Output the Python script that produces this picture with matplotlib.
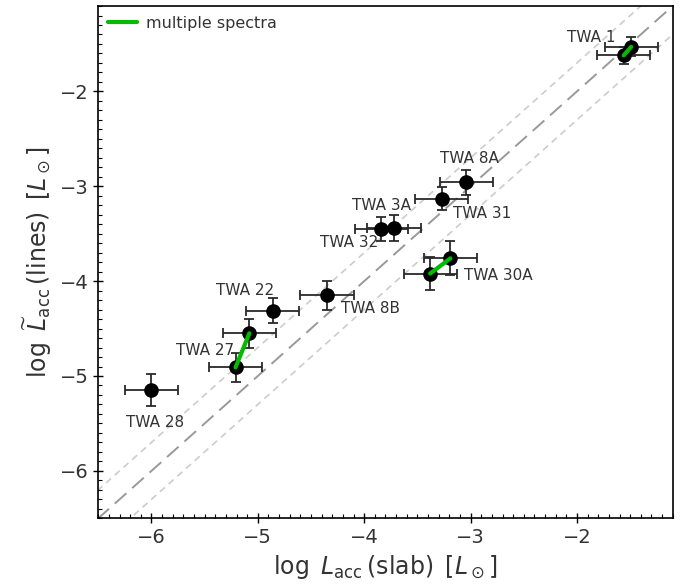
import numpy as np
import matplotlib
matplotlib.use("Agg")
import matplotlib.pyplot as plt
from matplotlib.ticker import MultipleLocator

plt.rcParams['font.family'] = ['DejaVu Sans']
plt.rcParams['mathtext.fontset'] = 'dejavusans'

# single-spectrum targets
names = ['TWA 28', 'TWA 22', 'TWA 8B', 'TWA 32', 'TWA 3A', 'TWA 31', 'TWA 8A']
x_slab = [-6.00, -4.86, -4.35, -3.84, -3.72, -3.27, -3.04]
y_lines = [-5.15, -4.31, -4.15, -3.45, -3.44, -3.13, -2.96]
x_err = [0.25, 0.25, 0.25, 0.25, 0.25, 0.25, 0.25]
y_err = [0.17, 0.13, 0.155, 0.13, 0.14, 0.12, 0.13]

# targets with multiple spectra (two epochs each)
multi_names = ['TWA 27', 'TWA 30A', 'TWA 1']
multi_x = [[-5.21, -5.08], [-3.38, -3.19], [-1.56, -1.49]]
multi_y = [[-4.91, -4.55], [-3.92, -3.76], [-1.62, -1.53]]
multi_xerr = [[0.25, 0.25], [0.25, 0.25], [0.25, 0.25]]
multi_yerr = [[0.15, 0.155], [0.175, 0.18], [0.09, 0.10]]

# label positions (data coords)
lab_names = ['TWA 28', 'TWA 22', 'TWA 8B', 'TWA 32', 'TWA 3A', 'TWA 31', 'TWA 8A',
             'TWA 27', 'TWA 30A', 'TWA 1']
lab_x = [-5.97, -5.12, -3.94, -4.14, -3.84, -2.89, -3.01, -5.50, -2.74, -1.87]
lab_y = [-5.49, -4.10, -4.29, -3.59, -3.20, -3.29, -2.71, -4.73, -3.94, -1.43]

offset = 0.3
txtcol = '#333333'

fig = plt.figure(figsize=(6.86, 5.84), dpi=100)
ax = fig.add_axes([0.1433, 0.1125, 0.8373, 0.8772])

xx = np.array([-7.0, 0.0])
ax.plot(xx, xx, color='#999999', lw=1.4, dashes=(8, 4), zorder=1)
ax.plot(xx, xx + offset, color='#cccccc', lw=1.2, dashes=(4, 3), zorder=1)
ax.plot(xx, xx - offset, color='#cccccc', lw=1.2, dashes=(4, 3), zorder=1)

ax.errorbar(x_slab, y_lines, xerr=x_err, yerr=y_err, fmt='o', color='black',
            ms=9.5, ecolor='#2a2a2a', elinewidth=1.3, capsize=3.5, capthick=1.3, zorder=3)

for i in range(len(multi_names)):
    ax.errorbar(multi_x[i], multi_y[i], xerr=multi_xerr[i], yerr=multi_yerr[i], fmt='o',
                color='black', ms=9.5, ecolor='#2a2a2a', elinewidth=1.3, capsize=3.5,
                capthick=1.3, zorder=3)
    ax.plot(multi_x[i], multi_y[i], color='#00bb00', lw=3, solid_capstyle='round', zorder=4,
            label='multiple spectra' if i == 0 else None)

for n, tx, ty in zip(lab_names, lab_x, lab_y):
    ax.text(tx, ty, n, ha='center', va='center', fontsize=11, color=txtcol)

ax.set_xlim(-6.5, -1.1)
ax.set_ylim(-6.5, -1.1)
ax.xaxis.set_major_locator(MultipleLocator(1))
ax.yaxis.set_major_locator(MultipleLocator(1))
ax.xaxis.set_minor_locator(MultipleLocator(0.1))
ax.yaxis.set_minor_locator(MultipleLocator(0.1))
ax.tick_params(which='major', direction='inout', length=7, width=1, labelsize=14,
               labelcolor=txtcol)
ax.tick_params(which='minor', direction='in', length=3, width=0.8)
for s in ax.spines.values():
    s.set_linewidth(1.2)

ax.set_xlabel(r'$\log\ L_{\rm acc}\,({\rm slab})\ \,[L_\odot]$', fontsize=17, color=txtcol)
ax.set_ylabel(r'$\log\ \widetilde{L}_{\rm acc}\,({\rm lines})\ \,[L_\odot]$', fontsize=17,
              color=txtcol)

leg = ax.legend(loc='upper left', frameon=False, fontsize=11.5, handlelength=1.8,
                handletextpad=0.6, borderaxespad=0.2)
for t in leg.get_texts():
    t.set_color(txtcol)

fig.savefig('out.png', dpi=100)
